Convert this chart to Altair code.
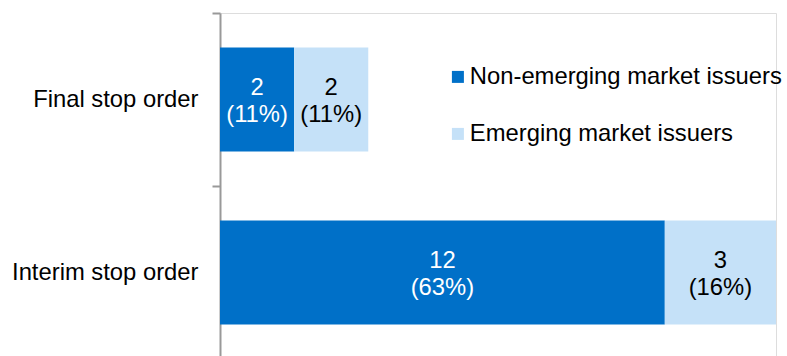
import altair as alt
import pandas as pd

categories = ["Final stop order", "Interim stop order"]
series = ["Non-emerging market issuers", "Emerging market issuers"]
non_emerging_counts = [2, 12]
emerging_counts = [2, 3]
non_emerging_pcts = [11, 63]
emerging_pcts = [11, 16]
colors = ["#0070C8", "#C5E1F8"]

FONT = "Liberation Sans"
FS = 23.8

rows = []
for i, cat in enumerate(categories):
    for j, (cnts, pcts) in enumerate([(non_emerging_counts, non_emerging_pcts),
                                      (emerging_counts, emerging_pcts)]):
        rows.append({"category": cat, "series": series[j], "order": j,
                     "value": cnts[i], "label": f"{cnts[i]}\n({pcts[i]}%)"})
df = pd.DataFrame(rows)

base = alt.Chart(df).transform_stack(
    stack="value", groupby=["category"], as_=["x0", "x1"],
    sort=[alt.SortField("order")]
).transform_calculate(mid="(datum.x0 + datum.x1) / 2")

y_enc = alt.Y(
    "category:N", sort=categories, title=None,
    scale=alt.Scale(range=[0, 346], paddingInner=0, paddingOuter=0),
    axis=alt.Axis(title=None, tickBand="extent", domainColor="#999999", domainWidth=2,
                  tickColor="#999999", tickWidth=2, tickSize=8, labelFontSize=FS,
                  labelFont=FONT, labelColor="black", labelPadding=14, labelLimit=0),
)
x_scale = alt.Scale(domain=[0, 15], nice=False, zero=True)

bars = base.mark_bar(height={"band": 0.6}).encode(
    y=y_enc,
    x=alt.X("x0:Q", scale=x_scale, axis=None),
    x2="x1:Q",
    color=alt.Color(
        "series:N", scale=alt.Scale(domain=series, range=colors),
        legend=alt.Legend(orient="none", legendX=226, legendY=52, title=None,
                          symbolType="square", symbolSize=144, symbolStrokeWidth=0,
                          symbolOpacity=1, labelFontSize=FS, labelFont=FONT,
                          labelColor="black", labelOffset=0, rowPadding=32,
                          padding=0, labelLimit=0),
    ),
    order=alt.Order("order:Q"),
)

texts = base.mark_text(lineBreak="\n", fontSize=FS, font=FONT, lineHeight=27,
                       baseline="middle", align="center", dy=-12).encode(
    y=y_enc,
    x=alt.X("mid:Q", scale=x_scale, axis=None),
    text="label:N",
    color=alt.condition("datum.order == 0", alt.value("white"), alt.value("black")),
)

chart = alt.layer(bars, texts).properties(
    width=556, height=343,
    autosize=alt.AutoSizeParams(type="none"),
    padding={"left": 220, "top": 13, "right": 11, "bottom": 0},
).configure_view(stroke=None).configure(background="white")

chart.save("out.html", embed_options={"renderer": "svg", "actions": False})
